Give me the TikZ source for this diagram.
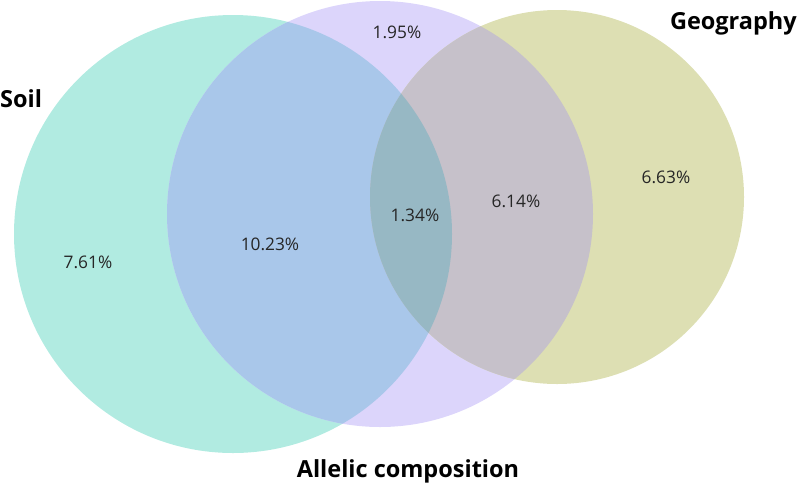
\documentclass[tikz,border=0pt]{standalone}
\usepackage{fontspec}
\setmainfont{Open Sans}
\definecolor{cS}{HTML}{B1EBE1}
\definecolor{cA}{HTML}{DCD5FB}
\definecolor{cG}{HTML}{DDDFB3}
\definecolor{cSA}{HTML}{A9C7EA}
\definecolor{cAG}{HTML}{C6C1CA}
\definecolor{cSAG}{HTML}{97B8C4}
\tikzset{
  pct/.style={font=\fontsize{17.3}{20}\selectfont, text=black!85, inner sep=0pt, anchor=base},
  setlabel/.style={font=\fontsize{23.5}{27}\selectfont\bfseries, inner sep=0pt}
}
\begin{document}
\begin{tikzpicture}[x=1pt,y=-1pt]
\useasboundingbox (0,0) rectangle (800,483);
\def\soil{(233,234) circle[radius=219pt]}
\def\allel{(380,214) circle[radius=213pt]}
\def\geo{(557,197) circle[radius=187pt]}
\fill[cS] \soil;
\fill[cA] \allel;
\fill[cG] \geo;
\begin{scope}\clip \soil; \fill[cSA] \allel; \end{scope}
\begin{scope}\clip \allel; \fill[cAG] \geo; \end{scope}
\begin{scope}\clip \soil; \clip \allel; \fill[cSAG] \geo; \end{scope}
\node[pct] (p1) at (397,38.5) {1.95\%};
\node[pct] (p2) at (88,268.5) {7.61\%};
\node[pct] (p3) at (270,250) {10.23\%};
\node[pct] (p4) at (415,221) {1.34\%};
\node[pct] (p5) at (516,207) {6.14\%};
\node[pct] (p6) at (666,183.5) {6.63\%};
\node[setlabel, anchor=base west] (ls) at (0,107) {Soil};
\node[setlabel, anchor=base east] (lg) at (797,29) {Geography};
\node[setlabel, anchor=base] (la) at (408,477) {Allelic composition};
\end{tikzpicture}
\end{document}
